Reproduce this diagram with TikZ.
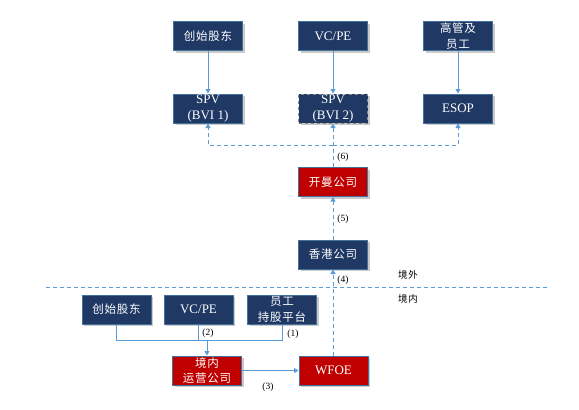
\documentclass[tikz,border=0pt]{standalone}
\usepackage{fontspec}
\setmainfont{Liberation Serif}
\newfontfamily\cjk[LetterSpace=6]{Noto Sans CJK SC}
\usetikzlibrary{arrows.meta,shadows}
\definecolor{navy}{HTML}{1F3864}
\definecolor{boxedge}{HTML}{41719C}
\definecolor{redbox}{HTML}{C00000}
\definecolor{lineblue}{HTML}{5B9BD5}
\tikzset{
  box/.style={draw=boxedge, line width=1pt, fill=navy, text=white,
    minimum width=69pt, minimum height=29pt, inner sep=1pt, align=center,
    drop shadow={shadow xshift=2pt, shadow yshift=-2pt, fill=black!35, opacity=0.6}},
  redb/.style={box, fill=redbox},
  latin/.style={font=\fontsize{13}{15.5}\selectfont},
  han/.style={font=\cjk\fontsize{11.5}{15.5}\selectfont},
  lbl/.style={font=\fontsize{9.5}{10}\selectfont, text=black, inner sep=0pt},
  zone/.style={font=\cjk\fontsize{9.5}{10}\selectfont, text=black, inner sep=0pt},
  sline/.style={draw=lineblue, line width=0.9pt},
  dline/.style={draw=lineblue, line width=0.9pt, dash pattern=on 4pt off 3pt},
  tip/.style={-{Triangle[width=5pt,length=4.5pt]}}
}
\begin{document}
\begin{tikzpicture}[x=1pt,y=-1pt]
\useasboundingbox (0,0) rectangle (579,410);
% top row
\node[box,han] (f1) at (208,36) {创始股东};
\node[box,latin] (v1) at (333,36) {VC/PE};
\node[box,han] (mg) at (458,36) {高管及\\员工};
% spv row
\node[box,latin] (spv1) at (208,108.5) {SPV\\(BVI 1)};
\node[box,latin,draw=black!45,dashed] (spv2) at (333,108.5) {SPV\\(BVI 2)};
\node[box,latin] (esop) at (458,108.5) {ESOP};
% cayman / hk
\node[redb,han] (km) at (333,182) {开曼公司};
\node[box,han] (hk) at (333,254.5) {香港公司};
% bottom
\node[box,han] (f2) at (116.5,309.5) {创始股东};
\node[box,latin] (v2) at (198.5,309.5) {VC/PE};
\node[box,han] (emp) at (282,309.5) {员工\\持股平台};
\node[redb,han] (op) at (207,370.5) {境内\\运营公司};
\node[redb,latin] (wf) at (333.5,370.5) {WFOE};
% border line
\coordinate (bl) at (46,287);
\coordinate (br) at (547,287);
\draw[dline] (bl) -- (br);
\node[zone] (out) at (408,275) {境外};
\node[zone] (in) at (408,299) {境内};
% top arrows
\draw[sline,tip] (f1) -- (spv1);
\draw[sline,tip] (v1) -- (spv2);
\draw[sline,tip] (mg) -- (esop);
% (6)
\coordinate (j6) at (333,145);
\draw[dline,tip] (km.north) -- (spv2.south);
\draw[dline,tip] (j6) -| (spv1.south);
\draw[dline,tip] (j6) -| (esop.south);
\node[lbl] (l6) at (343,157) {(6)};
% (5)
\draw[dline,tip] (hk.north) -- (km.south);
\node[lbl] (l5) at (343,219) {(5)};
% (4)
\draw[dline,tip] (hk.south |- wf.north) -- (hk.south);
\node[lbl] (l4) at (343,280) {(4)};
% bottom joins
\coordinate (jb) at (207,340);
\draw[sline] (f2.south) |- (jb);
\draw[sline] (emp.south) |- (jb);
\draw[sline] (v2.south) -- (v2.south |- jb);
\draw[sline,tip] (jb) -- (op.north);
\node[lbl] (l2) at (208,333) {(2)};
\node[lbl] (l1) at (293,334) {(1)};
% (3)
\draw[sline,tip] (op.east) -- (wf.west);
\node[lbl] (l3) at (268,387) {(3)};
\end{tikzpicture}
\end{document}
